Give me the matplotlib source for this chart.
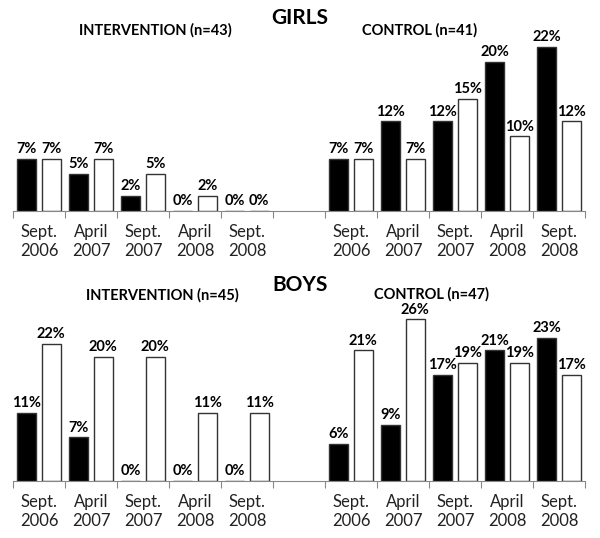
import numpy as np
import matplotlib
matplotlib.use("Agg")
import matplotlib.pyplot as plt

plt.rcParams["font.family"] = ["Lato", "DejaVu Sans"]

periods = ["Sept.\n2006", "April\n2007", "Sept.\n2007", "April\n2008", "Sept.\n2008"]

girlsIntervention1 = [7, 5, 2, 0, 0]
girlsIntervention2 = [7, 7, 5, 2, 0]
girlsControl1      = [7, 12, 12, 20, 22]
girlsControl2      = [7, 7, 15, 10, 12]

boysIntervention1  = [11, 7, 0, 0, 0]
boysIntervention2  = [22, 20, 20, 11, 11]
boysControl1       = [6, 9, 17, 21, 23]
boysControl2       = [21, 26, 19, 19, 17]

W, H = 600, 538
figure = plt.figure(figsize=(W/100, H/100), dpi=100)


def DrawPanel(rect, yMax, black, white, title, leftTitle, rightTitle, titleY, leftTitleXY, rightTitleXY):
    axes = figure.add_axes(rect)
    centers = np.r_[np.arange(5) + 0.5, np.arange(5) + 6.5]
    width = 0.36
    offset = 0.235
    blackBars = axes.bar(centers - offset, black, width, color="black", edgecolor="#333333", linewidth=1.0)
    whiteBars = axes.bar(centers + offset, white, width, color="white", edgecolor="#333333", linewidth=1.0)
    for bars, values in ((blackBars, black), (whiteBars, white)):
        for bar, value in zip(bars, values):
            axes.annotate(f"{value}%", (bar.get_x() + bar.get_width()/2, value), xytext=(0, 2),
                          textcoords="offset points", ha="center", va="bottom",
                          fontsize=10.5, fontweight="bold")

    axes.set_xlim(0, 11)
    axes.set_ylim(0, yMax)
    axes.set_xticks(np.arange(12))
    axes.set_xticklabels([])
    axes.set_xticks(centers, minor=True)
    axes.set_xticklabels(periods * 2, minor=True, fontsize=12, linespacing=1.3, color="#222222")
    axes.tick_params(axis="x", which="major", length=5, color="#888888", direction="out")
    axes.tick_params(axis="x", which="minor", length=0, pad=9)
    axes.set_yticks([])
    for side in ("top", "right", "left"):
        axes.spines[side].set_visible(False)
    axes.spines["bottom"].set_color("#888888")

    figure.text(0.5, 1 - titleY/H, title, ha="center", va="center", fontsize=15, fontweight="bold")
    figure.text(leftTitleXY[0]/W, 1 - leftTitleXY[1]/H, leftTitle, ha="center", va="center", fontsize=10.5, fontweight="bold")
    figure.text(rightTitleXY[0]/W, 1 - rightTitleXY[1]/H, rightTitle, ha="center", va="center", fontsize=10.5, fontweight="bold")
    return axes


left  = 13/W
width = 572/W

DrawPanel([left, 1 - 211/H, width, 171/H], 171/7.47,
          girlsIntervention1 + girlsControl1, girlsIntervention2 + girlsControl2,
          "GIRLS", "INTERVENTION (n=43)", "CONTROL (n=41)", 18, (155, 30), (420, 30))

DrawPanel([left, 1 - 481/H, width, 171/H], 171/6.22,
          boysIntervention1 + boysControl1, boysIntervention2 + boysControl2,
          "BOYS", "INTERVENTION (n=45)", "CONTROL (n=47)", 285, (162, 295), (432, 294))

figure.savefig("out.png", dpi=100)
